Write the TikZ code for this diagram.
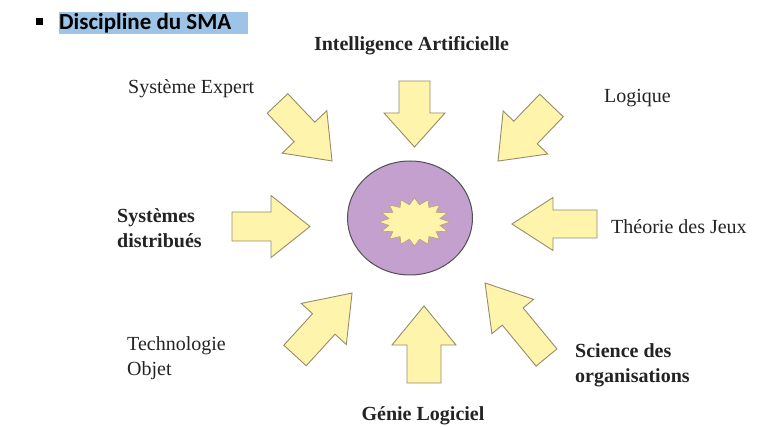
\documentclass[tikz,border=0pt]{standalone}
\usepackage{fontspec}
\setmainfont{Liberation Serif}
\newfontfamily\headfont{Carlito}

\definecolor{arrowfill}{RGB}{255,244,172}
\definecolor{arrowedge}{RGB}{150,140,105}
\definecolor{corefill}{RGB}{196,160,206}
\definecolor{coreedge}{RGB}{80,80,80}
\definecolor{burstfill}{RGB}{255,244,170}
\definecolor{burstedge}{RGB}{185,160,120}
\definecolor{marker}{RGB}{157,195,230}
\definecolor{ink}{RGB}{35,35,35}

% block arrow: tail x, tail y, direction, length, shaft half-width, head half-width, head length
\newcommand\blockarrow[7]{%
  \filldraw[barrow, shift={(#1,#2)}, rotate=#3]
    (0,-#5) -- ({#4-#7},-#5) -- ({#4-#7},-#6) -- (#4,0)
    -- ({#4-#7},#6) -- ({#4-#7},#5) -- (0,#5) -- cycle;}

\begin{document}
\begin{tikzpicture}[x=1pt,y=-1pt,
  barrow/.style={fill=arrowfill, draw=arrowedge, line width=0.9pt, line join=miter},
  label/.style={inner sep=0pt, text=ink, font=\fontsize{20}{25}\selectfont},
  blabel/.style={label, font=\fontsize{20}{25}\selectfont\bfseries}]
\useasboundingbox (0,0) rectangle (778,427);
\fill[white] (0,0) rectangle (778,427);

% heading
\fill[black] (36,18) rectangle (43,25);
\fill[marker] (59,12) rectangle (248,34);
\node[inner sep=0pt, anchor=base west, font=\headfont\fontsize{23}{28}\selectfont\bfseries]
  (heading) at (59,30) {Discipline du SMA};

% centre: ellipse with starburst
\filldraw[fill=corefill, draw=coreedge, line width=1pt] (410,218) ellipse [x radius=62.5, y radius=57];
\filldraw[fill=burstfill, draw=burstedge, line width=0.6pt, shift={(414.5,222)}]
  (0:35.5 and 24)
  \foreach \a in {0,22.5,...,337.5} { -- ({\a+11.25}:26 and 17.5) -- ({\a+22.5}:35.5 and 24) } -- cycle;

% arrows pointing to the centre
\blockarrow{414.5}{81}{-90}{66}{15.5}{30.5}{34}
\blockarrow{277.5}{103.5}{-46.5}{79.2}{14.2}{30.8}{40}
\blockarrow{551.5}{105.5}{-133.9}{77.1}{16.3}{31}{39.6}
\blockarrow{232}{226.5}{0}{78}{14.5}{31}{39}
\blockarrow{597}{224}{180}{85}{14}{26.5}{41}
\blockarrow{424}{383}{90}{77}{17}{32}{39}
\blockarrow{295}{355.5}{47.6}{84.6}{15.2}{30.5}{41.9}
\blockarrow{546.5}{357.5}{129.5}{96.6}{13.5}{27}{43.5}

% disciplines
\node[blabel, anchor=base] (ia) at (411.5,51) {Intelligence Artificielle};
\node[label, anchor=base west] (se) at (128,94) {Système Expert};
\node[label, anchor=base west] (lo) at (604,103) {Logique};
\node[blabel, anchor=west, align=left] (sd) at (117,228.5) {Systèmes\\distribués};
\node[label, anchor=base west] (tj) at (611,233.5) {Théorie des Jeux};
\node[label, anchor=west, align=left] (to) at (127,358.5) {Technologie\\Objet};
\node[blabel, anchor=west, align=left] (so) at (575,365.5) {Science des\\organisations};
\node[blabel, anchor=base] (gl) at (423,420) {Génie Logiciel};
\end{tikzpicture}
\end{document}
